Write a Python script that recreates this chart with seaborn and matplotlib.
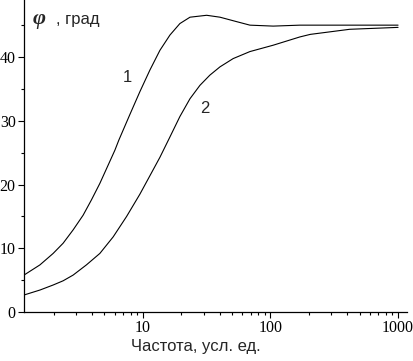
import matplotlib
matplotlib.use("Agg")
import matplotlib.pyplot as plt
import matplotlib.ticker as mticker
import seaborn as sns
import pandas as pd

# Curve 1
freq1 = [1.17, 1.56, 1.98, 2.37, 2.84, 3.40, 3.95, 4.60, 5.35, 6.03, 6.48, 7.9, 9.47,
         11.35, 13.6, 16.3, 19.5, 23.4, 31.6, 40.2, 54.3, 69, 105, 170, 400, 1000]
phi1 = [5.8, 7.4, 9.2, 10.8, 12.9, 15.2, 17.6, 20.2, 23.1, 25.4, 27.0, 31.0, 34.6,
        38.0, 41.1, 43.5, 45.3, 46.3, 46.6, 46.3, 45.6, 45.05, 44.9, 45.05, 45.05, 45.05]
# Curve 2
freq2 = [1.17, 1.56, 1.98, 2.37, 2.84, 3.61, 4.60, 5.85, 7.45, 9.47, 11.35, 13.6, 16.3,
         19.5, 23.4, 28, 33.5, 40.2, 51, 69, 105, 170, 205, 418, 1000]
phi2 = [2.67, 3.45, 4.24, 4.9, 5.8, 7.4, 9.2, 11.8, 15.0, 18.5, 21.4, 24.3, 27.5,
        30.7, 33.5, 35.6, 37.2, 38.5, 39.8, 40.9, 41.9, 43.2, 43.6, 44.4, 44.7]

curve_labels = ["1", "2"]
xticks = [10, 100, 1000]
xtick_labels = ["10", "100", "1000"]
yticks = [0, 10, 20, 30, 40]
xlabel = "Частота, усл. ед."
ylabel_sym = "φ"
ylabel_unit = ", град"

sns.set_style("ticks")
plt.rcParams["font.family"] = ["Liberation Sans", "DejaVu Sans"]

fig = plt.figure(figsize=(4.14, 3.61), dpi=100)
ax = fig.add_axes([24 / 414, 49 / 361, (407 - 24) / 414, 312 / 361])

df1 = pd.DataFrame({"f": freq1, "phi": phi1})
df2 = pd.DataFrame({"f": freq2, "phi": phi2})
sns.lineplot(data=df1, x="f", y="phi", ax=ax, color="black", lw=0.8, estimator=None)
sns.lineplot(data=df2, x="f", y="phi", ax=ax, color="black", lw=0.8, estimator=None)

ax.set_xscale("log")
ax.set_xlim(1.17, 1175)
ax.set_ylim(0, 49)

ax.set_xticks(xticks)
ax.set_xticklabels(xtick_labels)
ax.xaxis.set_minor_locator(mticker.LogLocator(base=10, subs=range(2, 10)))
ax.xaxis.set_minor_formatter(mticker.NullFormatter())
ax.set_yticks(yticks)
ax.yaxis.set_minor_locator(mticker.MultipleLocator(5))

for lab in ax.get_xticklabels() + ax.get_yticklabels():
    lab.set_family(["Liberation Serif"])
    lab.set_fontsize(11.5)

ax.tick_params(axis="both", which="major", length=4, width=0.8, direction="out", pad=2, colors="black")
ax.tick_params(axis="both", which="minor", length=2.5, width=0.8, direction="out", colors="black")

for s in ["top", "right"]:
    ax.spines[s].set_visible(False)
for s in ["left", "bottom"]:
    ax.spines[s].set_linewidth(0.9)
    ax.spines[s].set_color("black")

ax.set_xlabel(xlabel, fontsize=12)
ax.xaxis.set_label_coords((196 - 24) / 383, -27 / 312)
ax.set_ylabel("")

ax.text(1.36, 45.2, ylabel_sym, fontsize=16, style="italic", weight="bold",
        family=["Liberation Serif"], va="baseline")
ax.text(2.08, 45.2, ylabel_unit, fontsize=12, va="baseline")

ax.text(7.6, 36.9, curve_labels[0], fontsize=12, ha="center", va="center")
ax.text(30.6, 32.0, curve_labels[1], fontsize=12, ha="center", va="center")

fig.savefig("out.png", dpi=100)
